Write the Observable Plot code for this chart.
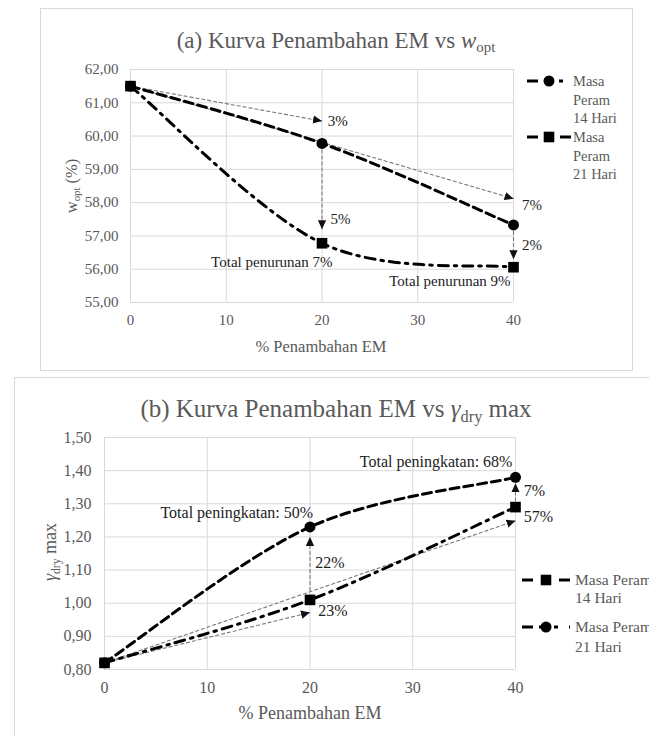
<!DOCTYPE html>
<html><head><meta charset="utf-8">
<script src="https://cdn.jsdelivr.net/npm/d3@7"></script>
<script src="https://cdn.jsdelivr.net/npm/@observablehq/plot@0.6"></script>
<style>
html,body{margin:0;padding:0;background:#fff;}
#root{position:relative;width:649px;height:736px;overflow:hidden;background:#fff;font-family:"Liberation Serif","Times New Roman",serif;}
.t{position:absolute;white-space:nowrap;color:#595959;transform:translate(-50%,-50%);line-height:1;}
.r{position:absolute;white-space:nowrap;color:#595959;transform:translate(-50%,-50%) rotate(-90deg);line-height:1;}
.box{position:absolute;border:1px solid #d9d9d9;box-sizing:border-box;}
.sub{font-size:0.65em;position:relative;top:0.3em;}
svg.plot{position:absolute;left:0;}
</style></head><body><div id="root"></div>
<script>
// ---------- data ----------
const emPct = [0, 20, 40];
const xTicks = [0, 10, 20, 30, 40];
const woptTicks = [55, 56, 57, 58, 59, 60, 61, 62];
const gdryTicks = [0.8, 0.9, 1.0, 1.1, 1.2, 1.3, 1.4, 1.5];
const wopt14 = [61.5, 59.78, 57.33];
const wopt21 = [61.5, 56.78, 56.06];
const gdry14 = [0.82, 1.01, 1.29];
const gdry21 = [0.82, 1.23, 1.38];
const woptArrows = [
  {x1: 0, y1: 61.5, x2: 20, y2: 60.45},
  {x1: 0, y1: 61.5, x2: 40, y2: 58.12},
  {x1: 20, y1: 59.78, x2: 20, y2: 57.2},
  {x1: 40, y1: 57.33, x2: 40, y2: 56.3}
];
const woptPctLabels = [
  {x: 20.6, y: 60.45, text: "3%"},
  {x: 40.9, y: 57.93, text: "7%"},
  {x: 20.9, y: 57.5, text: "5%"},
  {x: 40.9, y: 56.72, text: "2%"}
];
const woptTotalLabels = [
  {x: 21.1, y: 56.2, text: "Total penurunan 7%"},
  {x: 39.7, y: 55.63, text: "Total penurunan 9%"}
];
const gdryArrows = [
  {x1: 0, y1: 0.82, x2: 20, y2: 0.972},
  {x1: 0, y1: 0.82, x2: 40, y2: 1.249},
  {x1: 20, y1: 1.037, x2: 20, y2: 1.20},
  {x1: 40, y1: 1.307, x2: 40, y2: 1.362}
];
const gdryPctLabels = [
  {x: 20.5, y: 1.122, text: "22%"},
  {x: 20.8, y: 0.977, text: "23%"},
  {x: 40.8, y: 1.34, text: "7%"},
  {x: 40.8, y: 1.26, text: "57%"}
];
const gdryTotalLabels = [
  {x: 20.3, y: 1.272, text: "Total peningkatan: 50%"},
  {x: 39.7, y: 1.426, text: "Total peningkatan: 68%"}
];
const legendA = [["Masa", "Peram", "14 Hari"], ["Masa", "Peram", "21 Hari"]];
const legendB = [["Masa Peram", "14 Hari"], ["Masa Peram", "21 Hari"]];

// ---------- helpers ----------
const rows = (ys) => emPct.map((x, i) => ({x, y: ys[i]}));
const FONT = '"Liberation Serif", "Times New Roman", serif';

// Spreadsheet-style smoothed line (Bezier, 1/6 neighbour tangents)
function smoothCurve(context) {
  let pts = [];
  return {
    areaStart() {}, areaEnd() {},
    lineStart() { pts = []; },
    point(x, y) { pts.push([+x, +y]); },
    lineEnd() {
      const n = pts.length;
      if (!n) return;
      context.moveTo(pts[0][0], pts[0][1]);
      for (let i = 0; i < n - 1; i++) {
        const p0 = pts[Math.max(i - 1, 0)], p1 = pts[i], p2 = pts[i + 1], p3 = pts[Math.min(i + 2, n - 1)];
        context.bezierCurveTo(
          p1[0] + (p2[0] - p0[0]) / 6, p1[1] + (p2[1] - p0[1]) / 6,
          p2[0] - (p3[0] - p1[0]) / 6, p2[1] - (p3[1] - p1[1]) / 6,
          p2[0], p2[1]);
      }
    }
  };
}

const arrowHead = () => {
  const m = d3.create("svg:marker")
    .attr("viewBox", "0 -5 10 10").attr("refX", 10).attr("refY", 0)
    .attr("markerWidth", 9).attr("markerHeight", 9)
    .attr("markerUnits", "userSpaceOnUse").attr("orient", "auto");
  m.append("path").attr("d", "M0,-4.6L10,0L0,4.6Z").attr("fill", "#111").attr("stroke", "none").attr("stroke-dasharray", "none");
  return m.node();
};
const DASH = "9,5";
const DASHDOT = "10,6,2.5,6";

function chart(o) {
  const svg = Plot.plot({
    width: 649, height: o.height,
    marginLeft: o.ml, marginRight: o.mr, marginTop: o.mt, marginBottom: o.mb,
    x: {domain: [0, 40]},
    y: {domain: o.yDomain},
    style: {fontFamily: FONT, fontSize: o.tickFont + "px", color: "#595959", background: "transparent", overflow: "visible"},
    marks: [
      Plot.gridX(xTicks, {stroke: "#d9d9d9", strokeOpacity: 1}),
      Plot.gridY(o.yTicks, {stroke: "#d9d9d9", strokeOpacity: 1}),
      Plot.axisX(xTicks, {tickSize: 0, tickPadding: 12, label: null, fontSize: o.tickFont, fontFamily: FONT}),
      Plot.axisY(o.yTicks, {tickSize: 0, tickPadding: o.yPad, label: null, fontSize: o.tickFont, fontFamily: FONT, tickFormat: d => d.toFixed(2).replace(".", ",")}),
      Plot.link(o.arrows, {x1: "x1", y1: "y1", x2: "x2", y2: "y2", stroke: "#7a7a7a", strokeWidth: 1.1, strokeDasharray: "4,2", markerEnd: arrowHead}),
      Plot.line(rows(o.dashed), {x: "x", y: "y", stroke: "#000", strokeWidth: 3, strokeDasharray: DASH, curve: smoothCurve}),
      Plot.line(rows(o.dashdot), {x: "x", y: "y", stroke: "#000", strokeWidth: 3, strokeDasharray: DASHDOT, curve: smoothCurve}),
      Plot.dot(rows(o.dashed), {x: "x", y: "y", symbol: o.dashedSymbol, r: o.dashedSymbol === "circle" ? 5.5 : 6, fill: "#000", stroke: "none"}),
      Plot.dot(rows(o.dashdot), {x: "x", y: "y", symbol: o.dashdotSymbol, r: o.dashdotSymbol === "circle" ? 5.5 : 6, fill: "#000", stroke: "none"}),
      Plot.text(o.pct, {x: "x", y: "y", text: "text", textAnchor: "start", fill: "#222", fontSize: o.labelFont, fontFamily: FONT}),
      Plot.text(o.totals, {x: "x", y: "y", text: "text", textAnchor: "end", fill: "#222", fontSize: o.labelFont, fontFamily: FONT})
    ]
  });
  svg.classList.add("plot");
  svg.style.top = o.top + "px";
  return svg;
}

const root = document.getElementById("root");
function addBox(l, t, w, h) {
  const d = document.createElement("div");
  d.className = "box";
  Object.assign(d.style, {left: l + "px", top: t + "px", width: w + "px", height: h + "px"});
  root.appendChild(d);
}
function addText(cls, x, y, size, html) {
  const d = document.createElement("div");
  d.className = cls;
  d.style.left = x + "px"; d.style.top = y + "px"; d.style.fontSize = size + "px";
  d.innerHTML = html;
  root.appendChild(d);
}

addBox(40, 8, 593, 363);
addBox(14, 377, 700, 400);

root.appendChild(chart({
  top: 0, height: 370, ml: 130, mr: 136, mt: 69, mb: 68,
  yDomain: [55, 62], yTicks: woptTicks, tickFont: 15, labelFont: 15, yPad: 12,
  arrows: woptArrows, dashed: wopt14, dashedSymbol: "circle", dashdot: wopt21, dashdotSymbol: "square",
  pct: woptPctLabels, totals: woptTotalLabels
}));
root.appendChild(chart({
  top: 370, height: 366, ml: 104, mr: 134, mt: 67, mb: 67,
  yDomain: [0.8, 1.5], yTicks: gdryTicks, tickFont: 16, labelFont: 16, yPad: 13,
  arrows: gdryArrows, dashed: gdry21, dashedSymbol: "circle", dashdot: gdry14, dashdotSymbol: "square",
  pct: gdryPctLabels, totals: gdryTotalLabels
}));

addText("t", 336, 40, 23, '(a) Kurva Penambahan EM vs <i>w</i><span class="sub">opt</span>');
addText("r", 72, 186, 16.5, 'w<span class="sub">opt</span> (%)');
addText("t", 321, 347, 16.5, '% Penambahan EM');
addText("t", 336, 408, 25, '(b) Kurva Penambahan EM vs <i>γ</i><span class="sub">dry</span> max');
addText("r", 50, 552, 18, '<i>γ</i><span class="sub">dry</span> max');
addText("t", 310, 713, 18, '% Penambahan EM');

// ---------- legends ----------
const leg = d3.select(root).append("svg")
  .attr("width", 649).attr("height", 736)
  .style("position", "absolute").style("left", 0).style("top", 0);
function legendItem(x0, x1, cx, y, symbol, dash, lines, lx, lh, fs) {
  leg.append("line").attr("x1", x0).attr("x2", x1).attr("y1", y).attr("y2", y)
    .attr("stroke", "#000").attr("stroke-width", 3).attr("stroke-dasharray", dash);
  if (symbol === "circle") leg.append("circle").attr("cx", cx).attr("cy", y).attr("r", 5.5).attr("fill", "#000");
  else leg.append("rect").attr("x", cx - 5.3).attr("y", y - 5.3).attr("width", 10.6).attr("height", 10.6).attr("fill", "#000");
  lines.forEach((s, i) => leg.append("text").attr("x", lx).attr("y", y + i * lh).attr("dy", "0.35em")
    .attr("font-family", FONT).attr("font-size", fs).attr("fill", "#595959").text(s));
}
legendItem(527, 571, 549, 81, "circle", "11,6,9,6,4", legendA[0], 573, 18.5, 14.5);
legendItem(527, 571, 549, 137, "square", "11,22,11", legendA[1], 573, 18.5, 14.5);
legendItem(522, 570, 546, 580, "square", "11,26,11", legendB[0], 575, 17.5, 15.5);
legendItem(522, 570, 546, 627, "circle", "11,6,9,6,4", legendB[1], 575, 19.5, 15.5);
</script></body></html>
